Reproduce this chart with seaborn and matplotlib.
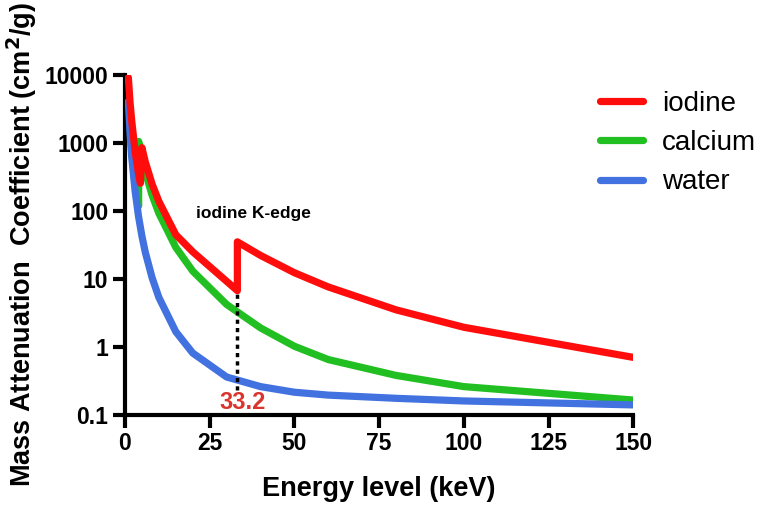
import matplotlib
matplotlib.use('Agg')
import matplotlib.pyplot as plt
import matplotlib.ticker as ticker
import numpy as np
import pandas as pd
import seaborn as sns

# mass attenuation coefficients (cm2/g)
iodine_kev = [1, 1.5, 2, 3, 4, 4.56, 5.0, 6, 8, 10, 15, 20, 33.17, 33.17, 40, 50, 60, 80, 100, 150]
iodine_mu = [9096, 3919, 2091, 742, 356, 255, 850, 524, 248, 138, 44.6, 25, 6.7, 35, 22.1, 12.3, 7.6, 3.5, 1.94, 0.70]

calcium_kev = [1, 1.5, 2, 3, 4.038, 4.038, 5, 6, 8, 10, 15, 20, 30, 40, 50, 60, 80, 100, 150]
calcium_mu = [4867, 1550, 720, 240, 118, 1050, 600, 372, 170, 92, 29, 13, 4.2, 1.9, 1.02, 0.65, 0.38, 0.26, 0.165]

water_kev = [1, 1.5, 2, 3, 4, 5, 6, 8, 10, 15, 20, 30, 40, 50, 60, 80, 100, 150]
water_mu = [4078, 1376, 617, 193, 82.8, 42.6, 24.6, 10.4, 5.33, 1.67, 0.81, 0.36, 0.26, 0.215, 0.195, 0.175, 0.16, 0.14]

k_edge = 33.2
k_edge_low = 6.7
k_edge_bottom = 0.23

yticks = [0.1, 1, 10, 100, 1000, 10000]
ytick_labels = ['0.1', '1', '10', '100', '1000', '10000']
xticks = [0, 25, 50, 75, 100, 125, 150]

colors = {'iodine': '#ff0d0d', 'calcium': '#22bf22', 'water': '#4272e0'}

sns.set_style('ticks')
plt.rcParams['font.family'] = ['Liberation Sans', 'DejaVu Sans']
plt.rcParams['text.color'] = 'black'

fig = plt.figure(figsize=(7.62, 5.09), dpi=100)
ax = fig.add_axes([0.164, 0.185, 0.667, 0.668])

df_i = pd.DataFrame({'Energy': iodine_kev, 'mu': iodine_mu})
df_c = pd.DataFrame({'Energy': calcium_kev, 'mu': calcium_mu})
df_w = pd.DataFrame({'Energy': water_kev, 'mu': water_mu})

lw = 5.2
sns.lineplot(data=df_c, x='Energy', y='mu', color=colors['calcium'], lw=lw, estimator=None, sort=False,
             ax=ax, label='calcium', zorder=2, solid_capstyle='round')
sns.lineplot(data=df_w, x='Energy', y='mu', color=colors['water'], lw=lw, estimator=None, sort=False,
             ax=ax, label='water', zorder=3, solid_capstyle='round')
ax.plot([k_edge, k_edge], [k_edge_bottom, k_edge_low], color='black', lw=2.5, ls=(0, (1.2, 1.2)), zorder=4)
sns.lineplot(data=df_i, x='Energy', y='mu', color=colors['iodine'], lw=lw, estimator=None, sort=False,
             ax=ax, label='iodine', zorder=5, solid_capstyle='round')

ax.set_yscale('log')
ax.set_xlim(0, 150)
ax.set_ylim(0.1, 10000)
ax.yaxis.set_major_locator(ticker.FixedLocator(yticks))
ax.yaxis.set_minor_locator(ticker.NullLocator())
ax.set_yticklabels(ytick_labels)
ax.set_xticks(xticks)

sns.despine(ax=ax)
for s in ['left', 'bottom']:
    ax.spines[s].set_linewidth(3)
    ax.spines[s].set_color('black')
ax.tick_params(axis='both', which='major', length=9, width=3, color='black', pad=3,
               labelsize=16.5, labelcolor='black')
for lab in ax.get_xticklabels() + ax.get_yticklabels():
    lab.set_fontweight('bold')

ax.set_xlabel('Energy level (keV)', fontsize=19.5, fontweight='bold', color='black')
ax.set_ylabel('Mass Attenuation  Coefficient (cm$^\\mathbf{2}$/g)', fontsize=19.5, fontweight='bold', color='black')
ax.xaxis.set_label_coords(0.5, -0.218)
ax.xaxis.label.set_va('center')
ax.yaxis.set_label_coords(-0.203, 0.5)
ax.yaxis.label.set_va('center')

ax.text(37.8, 92, 'iodine K-edge', fontsize=12.5, fontweight='bold', ha='center', va='center', color='black')
ax.text(34.8, 0.15, '33.2', fontsize=17, fontweight='bold', ha='center', va='center', color='#d9352c')

handles, labels = ax.get_legend_handles_labels()
order = [labels.index(n) for n in ['iodine', 'calcium', 'water']]
leg = ax.legend([handles[i] for i in order], [labels[i] for i in order], frameon=False,
                loc='upper left', bbox_to_anchor=(0.787, 0.822), bbox_transform=fig.transFigure,
                fontsize=20, handlelength=1.55, handletextpad=0.7, labelspacing=0.48,
                borderpad=0, borderaxespad=0, labelcolor='black')
for h in leg.get_lines():
    h.set_linewidth(lw)
    h.set_solid_capstyle('round')

fig.savefig('out.png', dpi=100)
